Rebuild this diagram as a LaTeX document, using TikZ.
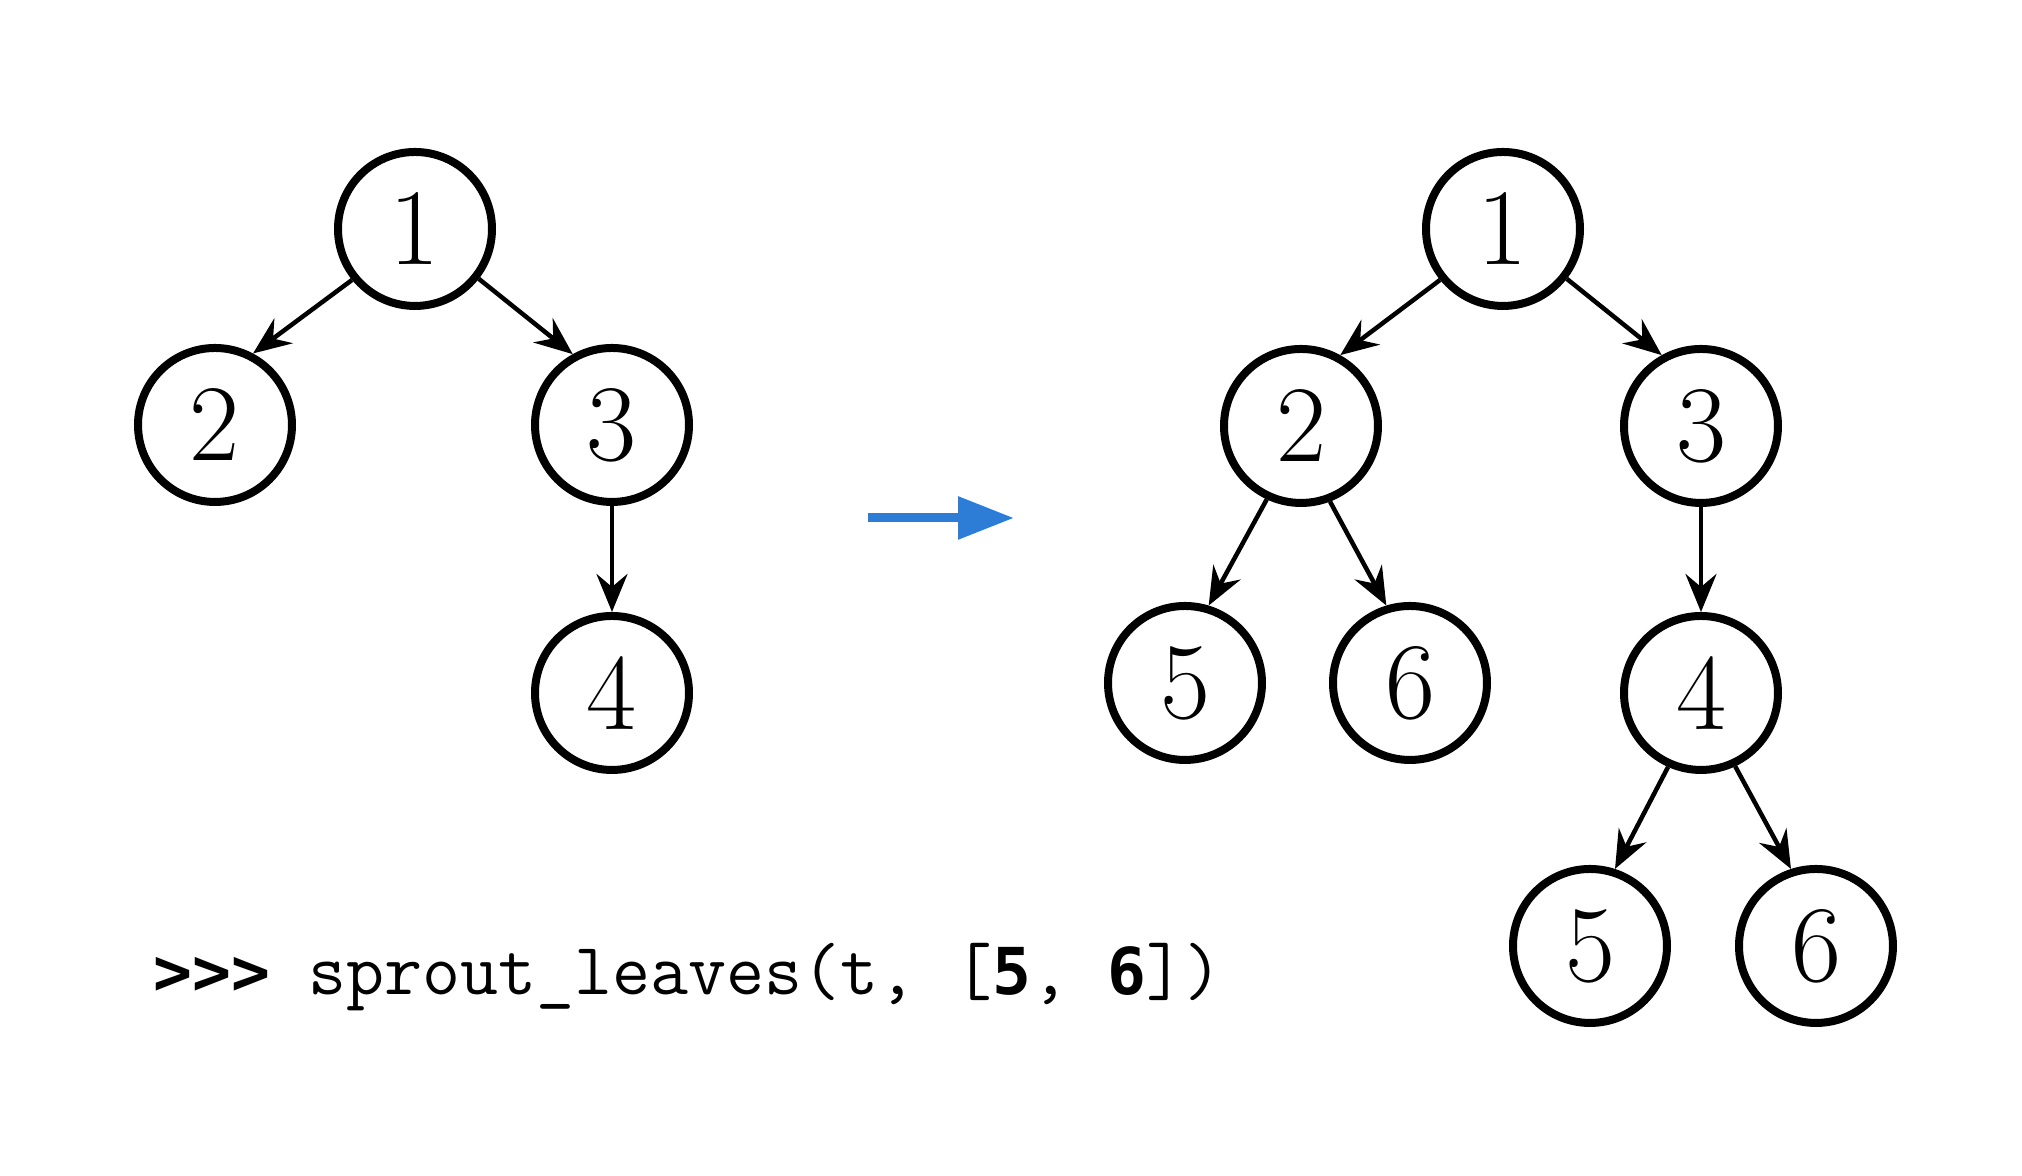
\documentclass[tikz,border=0pt]{standalone}
\usepackage{fontspec}
\newfontfamily\promptfont{DejaVu Sans Mono}
\usetikzlibrary{arrows.meta}
\definecolor{arrowblue}{RGB}{45,125,215}

\begin{document}
\begin{tikzpicture}[vertex/.style = {circle, draw, line width = 0.08cm, minimum size = 1.54cm, inner sep = 0pt, font = \fontsize{31}{37}\selectfont},
                    edge/.style = {line width = 0.045cm, -{Stealth[length = 3.8mm, width = 3.1mm, inset = 1.3mm]}},
                    sprout/.style = {arrowblue, line width = 0.09cm, -{Triangle[length = 5.6mm, width = 4.1mm]}}]
          	 \useasboundingbox (0,0) rectangle (20.22,11.76);

          	 \node[vertex] (L1) at (4.15,9.47) {1};
          	 \node[vertex] (L2) at (2.15,7.51) {2};
          	 \node[vertex] (L3) at (6.12,7.51) {3};
          	 \node[vertex] (L4) at (6.12,4.83) {4};

          	 \draw[edge] (L1.219) -- (L2.62);
          	 \draw[edge] (L1.322) -- (L3.119);
          	 \draw[edge] (L3.south) -- (L4.north);

          	 \coordinate (from) at (8.68,6.58);
          	 \coordinate (to) at (10.14,6.58);
          	 \draw[sprout] (from) -- (to);

          	 \node[vertex] (R1) at (15.03,9.47) {1};
          	 \node[vertex] (R2) at (13.01,7.50) {2};
          	 \node[vertex] (R3) at (17.01,7.50) {3};
          	 \node[vertex] (R5a) at (11.85,4.93) {5};
          	 \node[vertex] (R6a) at (14.10,4.93) {6};
          	 \node[vertex] (R4) at (17.01,4.83) {4};
          	 \node[vertex] (R5b) at (15.90,2.30) {5};
          	 \node[vertex] (R6b) at (18.16,2.30) {6};

          	 \draw[edge] (R1.219) -- (R2.61);
          	 \draw[edge] (R1.322) -- (R3.119);
          	 \draw[edge] (R3.south) -- (R4.north);
          	 \draw[edge] (R2.245) -- (R5a.73);
          	 \draw[edge] (R2.291) -- (R6a.107);
          	 \draw[edge] (R4.246) -- (R5b.72);
          	 \draw[edge] (R4.295) -- (R6b.108);

          	 \node[anchor = base west, inner sep = 0pt, font = \ttfamily\fontsize{21}{25}\selectfont] (call) at (1.53,1.81)
          	   {\frenchspacing{\promptfont\fontsize{18.4}{22}\selectfont\bfseries >>>} sprout\_leaves(t, [{\promptfont\fontsize{18.4}{22}\selectfont\bfseries 5}, {\promptfont\fontsize{18.4}{22}\selectfont\bfseries 6}])};
        \end{tikzpicture}
\end{document}
